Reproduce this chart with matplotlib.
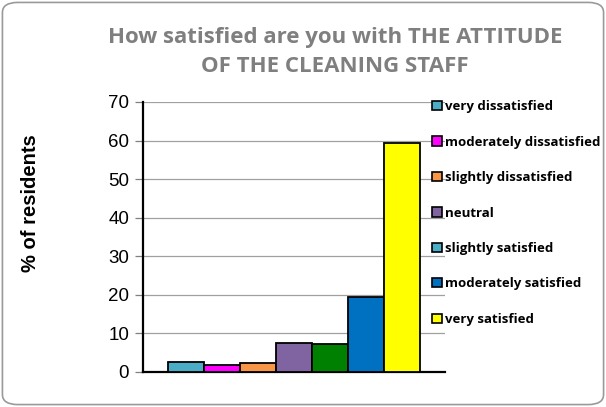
#!/usr/bin/env python3
"""
Satisfaction with the attitude of the cleaning staff - grouped bar chart.
"""
import matplotlib
matplotlib.use("Agg")
import matplotlib.pyplot as plt
from matplotlib.patches import FancyBboxPatch, Patch

# Data
categories = ["very dissatisfied", "moderately dissatisfied", "slightly dissatisfied",
              "neutral", "slightly satisfied", "moderately satisfied", "very satisfied"]
valores = [2.6, 1.8, 2.4, 7.5, 7.2, 19.4, 59.3]
bar_colors = ["#4BACC6", "#FF00FF", "#F79646", "#8064A2", "#008000", "#0070C0", "#FFFF00"]
legend_colors = ["#4BACC6", "#FF00FF", "#F79646", "#8064A2", "#4BACC6", "#0070C0", "#FFFF00"]
yticks = [0, 10, 20, 30, 40, 50, 60, 70]

fig = plt.figure(figsize=(6.06, 4.07), dpi=100)

# rounded border around the whole chart
borde = FancyBboxPatch((0.004, 0.006), 0.992, 0.988, boxstyle="round,pad=0,rounding_size=0.025",
                       transform=fig.transFigure, fill=False, edgecolor="#9a9a9a", linewidth=1.2)
fig.patches.append(borde)

W, H = 606, 407
x0, x1 = 143, 445
y0, y1 = 372, 102
ax = fig.add_axes([x0 / W, 1 - y0 / H, (x1 - x0) / W, (y0 - y1) / H])

ancho = 36 / 302
inicio = 25 / 302
for i, (v, c) in enumerate(zip(valores, bar_colors)):
    ax.bar(inicio + ancho * (i + 0.5), v, width=ancho, color=c, edgecolor="black",
           linewidth=1.3, zorder=3)

ax.set_xlim(0, 1)
ax.set_ylim(0, 70)
ax.set_yticks(yticks)
ax.set_xticks([])
ax.grid(axis="y", color="#a0a0a0", linewidth=0.9, zorder=0)
for s in ["top", "right"]:
    ax.spines[s].set_visible(False)
ax.spines["left"].set_linewidth(1.6)
ax.spines["bottom"].set_linewidth(1.6)
ax.tick_params(axis="y", direction="out", length=6, width=0.9, color="#808080",
               labelsize=13.5, pad=4)
for lbl in ax.get_yticklabels():
    lbl.set_family("Liberation Sans")

fig.text(31 / W, 1 - 203 / H, "% of residents", rotation=90, ha="center", va="center",
         fontsize=14.5, fontweight="bold", family="Liberation Sans")

fig.text(335 / W, 1 - 52 / H, "How satisfied are you with THE ATTITUDE\nOF THE CLEANING STAFF",
         ha="center", va="center", fontsize=16, fontweight="bold", color="#7F7F7F",
         family="Open Sans", linespacing=1.45)

handles = [Patch(facecolor=c, edgecolor="black", linewidth=1.2) for c in legend_colors]
leg = fig.legend(handles, categories, loc="upper left", bbox_to_anchor=(427 / W, 1 - 95 / H),
                 frameon=False, prop={"family": "Open Sans", "weight": "bold", "size": 9.5},
                 handlelength=0.7, handleheight=0.7, handletextpad=0.25,
                 labelspacing=1.7, borderaxespad=0)

fig.savefig("out.png", dpi=100)
